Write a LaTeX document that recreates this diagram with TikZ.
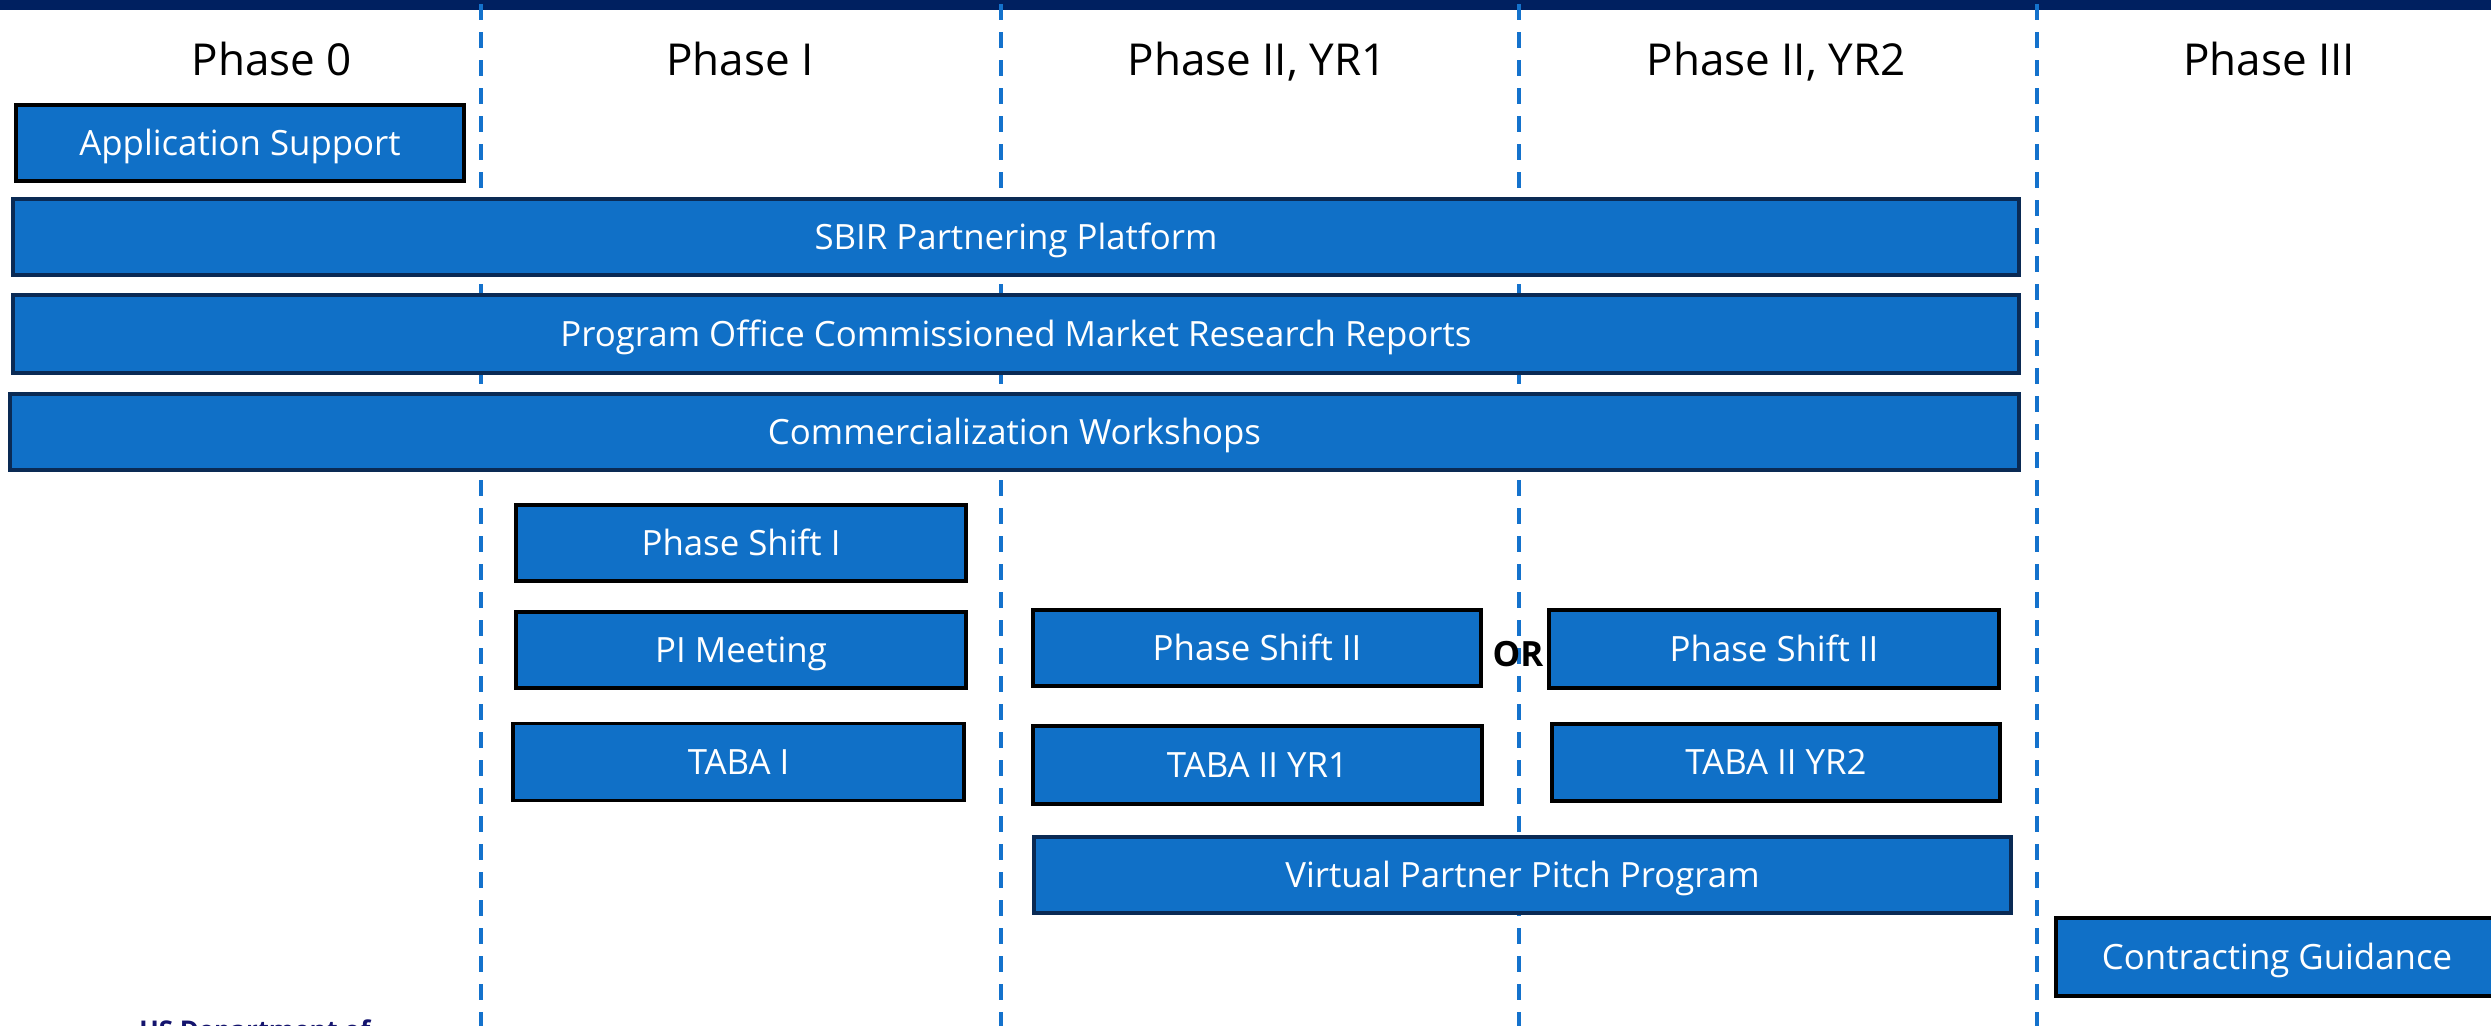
\documentclass[tikz,border=0pt]{standalone}
\usepackage{fontspec}
\setmainfont{Open Sans}
\definecolor{boxblue}{RGB}{16,112,199}
\definecolor{navyborder}{RGB}{10,42,84}
\definecolor{topbar}{RGB}{0,32,96}
\definecolor{dashblue}{RGB}{20,114,204}
\definecolor{footnavy}{RGB}{20,20,110}
\tikzset{
  box/.style={draw=black, line width=1.75pt, fill=boxblue, text=white,
    inner sep=0pt, outer sep=0pt, text height=12.4pt, text depth=0pt,
    font=\fontsize{17.4}{19}\selectfont},
  navybox/.style={box, draw=navyborder},
  phaselabel/.style={inner sep=0pt, text=black, text height=15.7pt, text depth=0pt,
    font=\fontsize{22}{24}\selectfont},
  phaseline/.style={draw=dashblue, line width=2pt, dash pattern=on 8pt off 6pt},
}
\begin{document}
\begin{tikzpicture}[x=0.5pt,y=-0.5pt]
\useasboundingbox (0,0) rectangle (2491,1025);
\clip (0,0) rectangle (2491,1025);
\fill[white] (0,0) rectangle (2491,1025);
% top bar
\fill[topbar] (0,0) rectangle (2491,10);
% phase separators
\foreach \n/\x in {1/481,2/1001,3/1519,4/2037}{
  \coordinate (t\n) at (\x,4);
  \coordinate (b\n) at (\x,1030);
  \draw[phaseline] (t\n) -- (b\n);
}
% phase labels
\node[phaselabel] (p0) at (272,60) {Phase 0};
\node[phaselabel] (p1) at (740,60) {Phase I};
\node[phaselabel] (p2) at (1257,60) {Phase II, YR1};
\node[phaselabel] (p3) at (1776,60) {Phase II, YR2};
\node[phaselabel] (p4) at (2269,60) {Phase III};
% boxes
\node[box, minimum width=224pt, minimum height=38pt] (app) at (240,143) {Application Support};
\node[navybox, minimum width=1003pt, minimum height=38pt] (sbir) at (1016,237) {SBIR Partnering Platform};
\node[navybox, minimum width=1003pt, minimum height=39pt] (prog) at (1016,334) {Program Office Commissioned Market Research Reports};
\node[navybox, minimum width=1004.5pt, minimum height=38pt] (comm) at (1014.5,432) {Commercialization Workshops};
\node[box, minimum width=225pt, minimum height=38pt] (ps1) at (741,543) {Phase Shift I};
\node[box, minimum width=225pt, minimum height=38pt] (pim) at (741,650) {PI Meeting};
\node[box, minimum width=225.5pt, minimum height=38.5pt] (taba1) at (738.5,762) {TABA I};
\node[box, minimum width=224pt, minimum height=38pt] (ps2a) at (1257,648) {Phase Shift II};
\node[box, minimum width=225pt, minimum height=39pt] (ps2b) at (1774,649) {Phase Shift II};
\node[box, minimum width=224.5pt, minimum height=39pt] (taba2a) at (1257.5,765) {TABA II YR1};
\node[box, minimum width=224pt, minimum height=38.5pt] (taba2b) at (1776,762.5) {TABA II YR2};
\node[navybox, minimum width=488.5pt, minimum height=38pt] (vpp) at (1522.5,875) {Virtual Partner Pitch Program};
\node[box, minimum width=221pt, minimum height=39pt] (cg) at (2277,957) {Contracting Guidance};
% OR
\node[inner sep=0pt, text height=12.4pt, text depth=0pt, font=\fontsize{17.4}{19}\selectfont\bfseries] (or) at (1518,654) {OR};
% footer (cut off at the lower edge, as in the reference)
\node[anchor=base west, inner sep=0pt, text=footnavy, font=\fontsize{12.9}{14}\selectfont\bfseries] (foot) at (139,1039) {US Department of};
\end{tikzpicture}
\end{document}
